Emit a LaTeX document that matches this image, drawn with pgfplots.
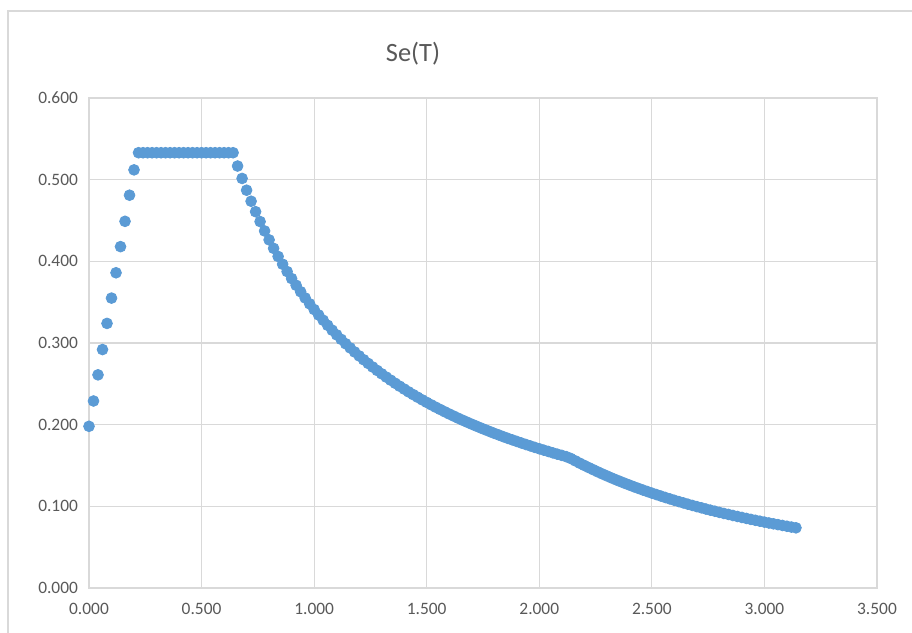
\documentclass[border=0pt]{standalone}
\usepackage{pgfplots}
\pgfplotsset{compat=1.18}
\usepackage{fontspec}
\setmainfont{Carlito}
\definecolor{excelblue}{HTML}{5B9BD5}
\definecolor{gridgray}{HTML}{D9D9D9}
\definecolor{textgray}{HTML}{595959}
\begin{document}
\begin{tikzpicture}[x=0.5pt,y=0.5pt]
  % page size in pixel units (1px = 0.5pt), origin bottom left
  \useasboundingbox[fill=white] (0,0) rectangle (912,633);
  \draw[gridgray,line width=0.8pt] (8,0) -- (8,622) -- (912,622);
  \begin{axis}[
    at={(44.5pt,22.5pt)}, anchor=south west,
    scale only axis,
    width=394pt, height=245pt,
    xmin=0, xmax=3.5, ymin=0, ymax=0.6,
    xtick={0,0.5,...,3.5}, ytick={0,0.1,...,0.6},
    tick label style={font=\fontsize{8.7}{10}\selectfont, text=textgray,
      /pgf/number format/fixed, /pgf/number format/fixed zerofill,
      /pgf/number format/precision=3, /pgf/number format/assume math mode=true},
    xticklabel style={yshift=-4pt},
    yticklabel style={xshift=-2pt},
    major tick length=0pt,
    grid=major,
    major grid style={gridgray, line width=0.6pt},
    axis line style={gridgray, line width=0.6pt},
    title={Se(T)},
    title style={font=\fontsize{13.2}{15}\selectfont, text=textgray, yshift=7pt, xshift=-35pt},
    clip=false,
  ]
  \addplot[only marks, mark=*, mark size=2.7pt, color=excelblue, mark options={draw=excelblue, fill=excelblue}] coordinates {
  (0.00,0.198)(0.02,0.229)(0.04,0.261)(0.06,0.292)(0.08,0.324)(0.10,0.355)(0.12,0.386)(0.14,0.418)(0.16,0.449)(0.18,0.481)(0.20,0.512)
  (0.22,0.533)(0.24,0.533)(0.26,0.533)(0.28,0.533)(0.30,0.533)(0.32,0.533)(0.34,0.533)(0.36,0.533)(0.38,0.533)(0.40,0.533)(0.42,0.533)
  (0.44,0.533)(0.46,0.533)(0.48,0.533)(0.50,0.533)(0.52,0.533)(0.54,0.533)(0.56,0.533)(0.58,0.533)(0.60,0.533)(0.62,0.533)(0.64,0.533)
  (0.66,0.5167)(0.68,0.5015)(0.70,0.4871)(0.72,0.4736)(0.74,0.4608)(0.76,0.4487)(0.78,0.4372)(0.80,0.4263)(0.82,0.4159)(0.84,0.4060)
  (0.86,0.3965)(0.88,0.3875)(0.90,0.3789)(0.92,0.3707)(0.94,0.3628)(0.96,0.3552)(0.98,0.3480)(1.00,0.3410)(1.02,0.3343)(1.04,0.3279)
  (1.06,0.3217)(1.08,0.3157)(1.10,0.3100)(1.12,0.3045)(1.14,0.2991)(1.16,0.2940)(1.18,0.2890)(1.20,0.2842)(1.22,0.2795)(1.24,0.2750)
  (1.26,0.2706)(1.28,0.2664)(1.30,0.2623)(1.32,0.2583)(1.34,0.2545)(1.36,0.2507)(1.38,0.2471)(1.40,0.2436)(1.42,0.2401)(1.44,0.2368)
  (1.46,0.2336)(1.48,0.2304)(1.50,0.2273)(1.52,0.2243)(1.54,0.2214)(1.56,0.2186)(1.58,0.2158)(1.60,0.2131)(1.62,0.2105)(1.64,0.2079)
  (1.66,0.2054)(1.68,0.2030)(1.70,0.2006)(1.72,0.1983)(1.74,0.1960)(1.76,0.1938)(1.78,0.1916)(1.80,0.1894)(1.82,0.1874)(1.84,0.1853)
  (1.86,0.1833)(1.88,0.1814)(1.90,0.1795)(1.92,0.1776)(1.94,0.1758)(1.96,0.1740)(1.98,0.1722)(2.00,0.1705)(2.02,0.1688)(2.04,0.1672)
  (2.06,0.1655)(2.08,0.1639)(2.10,0.1624)(2.12,0.1608)(2.14,0.1586)(2.16,0.1557)(2.18,0.1528)(2.20,0.1501)(2.22,0.1474)(2.24,0.1448)
  (2.26,0.1422)(2.28,0.1397)(2.30,0.1373)(2.32,0.1349)(2.34,0.1326)(2.36,0.1304)(2.38,0.1282)(2.40,0.1261)(2.42,0.1240)(2.44,0.1220)
  (2.46,0.1200)(2.48,0.1181)(2.50,0.1162)(2.52,0.1144)(2.54,0.1126)(2.56,0.1108)(2.58,0.1091)(2.60,0.1074)(2.62,0.1058)(2.64,0.1042)
  (2.66,0.1026)(2.68,0.1011)(2.70,0.0996)(2.72,0.0982)(2.74,0.0967)(2.76,0.0953)(2.78,0.0940)(2.80,0.0926)(2.82,0.0913)(2.84,0.0901)
  (2.86,0.0888)(2.88,0.0876)(2.90,0.0864)(2.92,0.0852)(2.94,0.0840)(2.96,0.0829)(2.98,0.0818)(3.00,0.0807)(3.02,0.0796)(3.04,0.0786)
  (3.06,0.0776)(3.08,0.0766)(3.10,0.0756)(3.12,0.0746)(3.14,0.0737)
  };
  \end{axis}
\end{tikzpicture}
\end{document}
